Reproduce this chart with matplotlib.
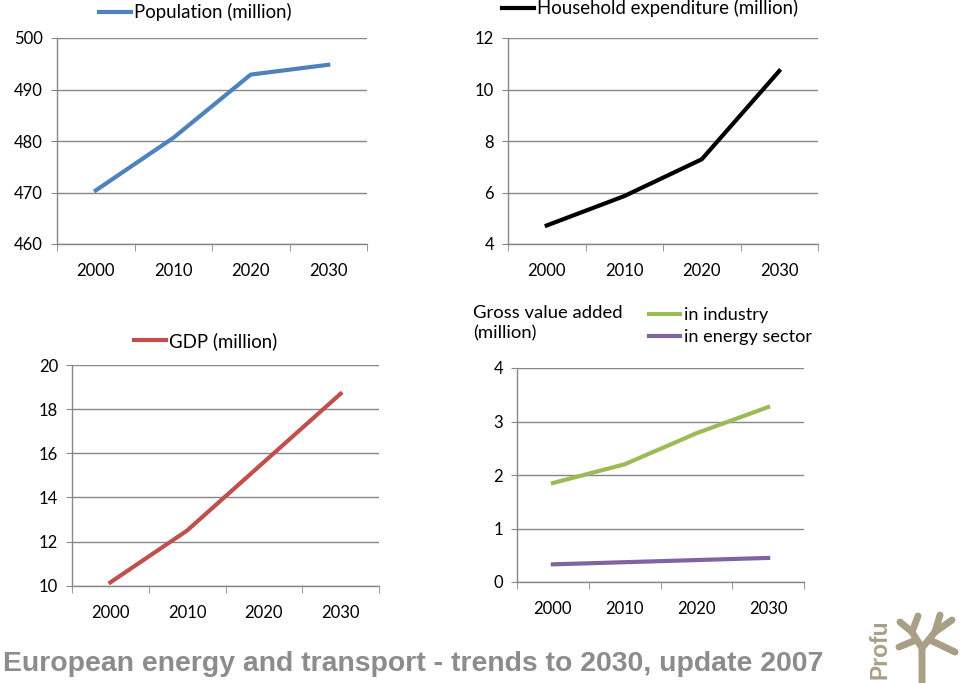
import matplotlib
matplotlib.use('Agg')
import matplotlib.pyplot as plt
from matplotlib.lines import Line2D

plt.rcParams['font.family'] = ['Lato', 'DejaVu Sans']

years = ['2000', '2010', '2020', '2030']
population = [470.4, 480.6, 492.9, 494.8]
household = [4.72, 5.86, 7.29, 10.72]
gdp = [10.15, 12.5, 15.6, 18.7]
gva_industry = [1.85, 2.2, 2.78, 3.27]
gva_energy = [0.33, 0.37, 0.41, 0.45]

grid_col = '#878787'
W, H = 960, 683

fig = plt.figure(figsize=(9.6, 6.83), dpi=100)


def box(x0, y0, x1, y1):
    # pixel box -> figure fraction
    return [x0 / W, 1 - y1 / H, (x1 - x0) / W, (y1 - y0) / H]


def style(ax, ylim, yticks):
    ax.set_xlim(-0.5, 3.5)
    ax.set_ylim(*ylim)
    ax.set_yticks(yticks)
    ax.set_xticks(range(len(years)))
    ax.set_xticklabels(years)
    ax.set_xticks([i - 0.5 for i in range(len(years) + 1)], minor=True)
    ax.tick_params(axis='x', which='major', length=0, pad=14, labelsize=12)
    ax.tick_params(axis='x', which='minor', length=5, color=grid_col, direction='out')
    ax.tick_params(axis='y', length=4, color=grid_col, labelsize=12, pad=6)
    ax.grid(axis='y', color=grid_col, linewidth=1)
    ax.set_axisbelow(True)
    for s in ['top', 'right']:
        ax.spines[s].set_visible(False)
    for s in ['left', 'bottom']:
        ax.spines[s].set_color(grid_col)
        ax.spines[s].set_linewidth(1)


def leg(ax, handles, labels, x, y, size=13.4):
    ax.legend(handles, labels, loc='upper left', bbox_to_anchor=(x / W, 1 - y / H),
              bbox_transform=fig.transFigure, frameon=False, fontsize=size,
              handlelength=1.7, handletextpad=0.2, borderpad=0, borderaxespad=0,
              labelspacing=0.35)


x = range(len(years))

ax1 = fig.add_axes(box(57, 38, 367, 244))
l1, = ax1.plot(x, population, color='#4F81BD', lw=3)
style(ax1, (460, 500), [460, 470, 480, 490, 500])
leg(ax1, [l1], ['Population (million)'], 99, 3)

ax2 = fig.add_axes(box(508, 38, 818, 244))
l2, = ax2.plot(x, household, color='black', lw=3)
style(ax2, (4, 12), [4, 6, 8, 10, 12])
leg(ax2, [l2], ['Household expenditure (million)'], 502, -1)

ax3 = fig.add_axes(box(72, 365, 379, 585.7))
l3, = ax3.plot(x, gdp, color='#C0504D', lw=3)
style(ax3, (10, 20), [10, 12, 14, 16, 18, 20])
leg(ax3, [l3], ['GDP (million)'], 134, 332)

ax4 = fig.add_axes(box(517, 368, 804, 582))
l4, = ax4.plot(x, gva_industry, color='#9BBB59', lw=3)
l5, = ax4.plot(x, gva_energy, color='#8064A2', lw=3)
style(ax4, (0, 4), [0, 1, 2, 3, 4])
leg(ax4, [l4, l5], ['in industry', 'in energy sector'], 649, 307, size=13.1)
fig.text(473 / W, 1 - 305 / H, 'Gross value added\n(million)', fontsize=13.3,
         va='top', ha='left', linespacing=1.35)

fig.text(3 / W, 1 - 671 / H, 'European energy and transport - trends to 2030, update 2007',
         fontsize=20.4, fontweight='bold', color='#8c8c8c', ha='left', va='baseline',
         family=['Liberation Sans', 'DejaVu Sans'])

# logo
logo_col = '#a89f86'
fig.text(880 / W, 1 - 649 / H, 'Profu', rotation=90, fontsize=16.5, fontweight='bold',
         color=logo_col, ha='center', va='center', family=['Liberation Sans', 'DejaVu Sans'])
branches = [
    [(922, 683), (922, 648), (912, 632), (900, 622)],
    [(922, 648), (935, 632), (952, 620)],
    [(916, 640), (899, 647)],
    [(930, 640), (955, 652)],
    [(912, 632), (918, 616)],
    [(935, 632), (940, 615)],
]
for b in branches:
    xs = [p[0] / W for p in b]
    ys = [1 - p[1] / H for p in b]
    fig.add_artist(Line2D(xs, ys, color=logo_col, lw=5, solid_capstyle='round'))

fig.savefig('out.png', dpi=100)
